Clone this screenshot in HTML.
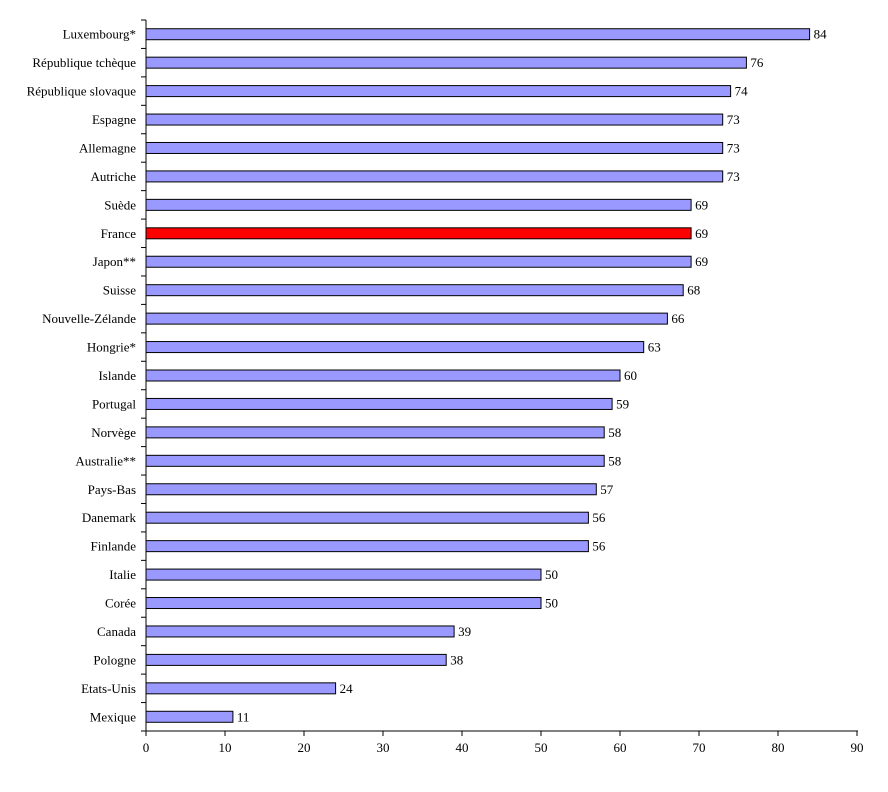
<!DOCTYPE html>
<html><head><meta charset="utf-8"><style>
body{margin:0;background:#fff}
svg text{font-family:"Liberation Serif",serif;font-size:13px;fill:#000}
</style></head><body>
<svg width="888" height="787">
<g id="plot"></g>
</svg>
<script>
const categories=["Luxembourg*","République tchèque","République slovaque","Espagne","Allemagne","Autriche","Suède","France","Japon**","Suisse","Nouvelle-Zélande","Hongrie*","Islande","Portugal","Norvège","Australie**","Pays-Bas","Danemark","Finlande","Italie","Corée","Canada","Pologne","Etats-Unis","Mexique"];
const values=[84,76,74,73,73,73,69,69,69,68,66,63,60,59,58,58,57,56,56,50,50,39,38,24,11];
const ticks=[0,10,20,30,40,50,60,70,80,90];
const highlight="France";
const x0=146,unit=7.9,plotTop=20,plotBottom=731;
const step=(plotBottom-plotTop)/categories.length;
const x=v=>x0+v*unit;
const yc=i=>plotTop+step*(i+0.5);
const g=document.getElementById('plot');
const NS="http://www.w3.org/2000/svg";
function mk(t,a){const e=document.createElementNS(NS,t);for(const k in a)e.setAttribute(k,a[k]);g.appendChild(e);return e;}
categories.forEach((c,i)=>{
 const r=mk('rect',{x:x(0),y:yc(i)-5.5,width:x(values[i])-x(0),height:11,fill:c===highlight?'#ff0000':'#9999ff',stroke:'#000','stroke-width':1});
 
 
 const l=mk('text',{x:136,y:yc(i)+4.5,'text-anchor':'end'});l.textContent=c;
 
 
 const v=mk('text',{x:x(values[i])+4,y:yc(i)+4.5});v.textContent=values[i];
 
 
});
for(let i=0;i<=categories.length;i++){mk('line',{x1:141,x2:146,y1:plotTop+step*i,y2:plotTop+step*i,stroke:'#000'});}
const ya=mk('line',{x1:146,x2:146,y1:plotTop,y2:plotBottom,stroke:'#000'});


const xa=mk('line',{x1:146,x2:x(90)+1,y1:plotBottom,y2:plotBottom,stroke:'#000'});


ticks.forEach(t=>{
 mk('line',{x1:x(t),x2:x(t),y1:plotBottom,y2:plotBottom+5,stroke:'#000'});
 const l=mk('text',{x:x(t),y:plotBottom+21,'text-anchor':'middle'});l.textContent=t;
 
 
});
</script>
</body></html>
